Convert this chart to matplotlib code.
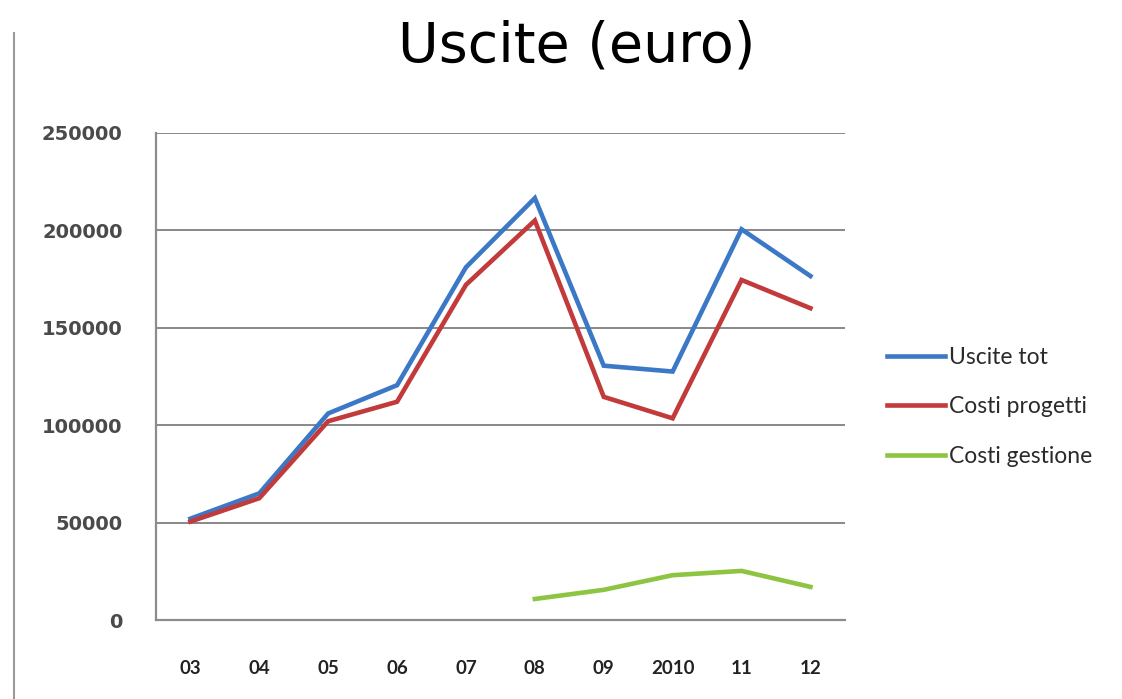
import matplotlib
matplotlib.use("Agg")
import matplotlib.pyplot as plt
from matplotlib.lines import Line2D

years = ["03", "04", "05", "06", "07", "08", "09", "2010", "11", "12"]
uscite_tot = [52000, 65000, 106000, 120500, 181000, 216500, 130500, 127500, 200500, 176500]
costi_progetti = [50500, 62500, 102000, 112000, 172000, 205000, 114500, 103500, 174500, 160000]
costi_gestione = [None, None, None, None, None, 10800, 15500, 23000, 25200, 17000]
yticks = [0, 50000, 100000, 150000, 200000, 250000]


def main():
    fig = plt.figure(figsize=(11.22, 6.99), dpi=100)
    ax = fig.add_axes([0.139, 0.113, 0.614, 0.697])

    x = list(range(len(years)))
    gx = [i for i, v in zip(x, costi_gestione) if v is not None]
    gy = [v for v in costi_gestione if v is not None]

    ax.plot(x, uscite_tot, color="#3b78c6", lw=3.3, label="Uscite tot", solid_joinstyle="miter")
    ax.plot(x, costi_progetti, color="#c23a3a", lw=3.3, label="Costi progetti", solid_joinstyle="miter")
    ax.plot(gx, gy, color="#8dc441", lw=3.3, label="Costi gestione", solid_joinstyle="miter")

    ax.set_xlim(-0.5, len(years) - 0.5)
    ax.set_ylim(0, 250000)
    ax.set_yticks(yticks)
    ax.set_yticklabels([str(v) for v in yticks], fontsize=14, color="#4a4a4a",
                       family="DejaVu Sans", fontweight="bold")
    ax.set_xticks(x)
    ax.set_xticklabels(years, fontsize=13.5, color="#222222", family="Lato",
                       fontweight="bold")
    ax.tick_params(axis="y", length=0, pad=24)
    ax.tick_params(axis="x", length=0, pad=29)

    ax.yaxis.grid(True, color="#7f7f7f", lw=1.3)
    ax.set_axisbelow(True)
    for s in ["top", "right"]:
        ax.spines[s].set_visible(False)
    for s in ["left", "bottom"]:
        ax.spines[s].set_color("#8c8c8c")
        ax.spines[s].set_linewidth(1.6)

    fig.legend(loc="center left", bbox_to_anchor=(0.772, 0.418), frameon=False,
               prop={"family": "Lato", "size": 16.5}, handlelength=2.55,
               handletextpad=0.15, labelspacing=1.25, labelcolor="#2a2a2a")

    fig.text(0.514, 0.933, "Uscite (euro)", ha="center", va="center",
             fontsize=40, color="black", family="DejaVu Sans")

    fig.add_artist(Line2D([14 / 1122, 14 / 1122], [0, 1 - 33 / 699],
                          transform=fig.transFigure, color="#9a9a9a", lw=1.5))

    fig.savefig("out.png", dpi=100)
    plt.close(fig)


if __name__ == "__main__":
    main()
